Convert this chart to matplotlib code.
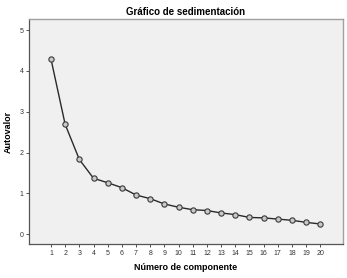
import matplotlib
matplotlib.use("Agg")
import matplotlib.pyplot as plt

componentes = list(range(1, 21))
autovalores = [4.29, 2.69, 1.83, 1.37, 1.26, 1.14, 0.96, 0.87, 0.74, 0.66,
               0.60, 0.58, 0.52, 0.48, 0.41, 0.40, 0.37, 0.34, 0.29, 0.25]
y_ticks = [0, 1, 2, 3, 4, 5]

plt.rcParams['font.family'] = ['Liberation Sans', 'DejaVu Sans']

fig = plt.figure(figsize=(3.47, 2.78), dpi=100)
ax = fig.add_axes([29 / 347, 1 - 244 / 278, (343 - 29) / 347, (244 - 19) / 278])
ax.set_facecolor('#f0f0f0')

ax.plot(componentes, autovalores, color='#2a2a2a', linewidth=1.0,
        marker='o', markersize=3.8, markerfacecolor='#c8c8c8',
        markeredgecolor='#3a3a3a', markeredgewidth=0.8)

ax.set_xlim(-0.55, 21.6)
ax.set_ylim(-0.24, 5.27)
ax.set_xticks(componentes)
ax.set_yticks(y_ticks)
ax.tick_params(axis='both', labelsize=5, length=2.5, width=0.6, pad=1.5,
               colors='#333333')

for s in ['top', 'right']:
    ax.spines[s].set_color('#a0a0a0')
    ax.spines[s].set_linewidth(1.0)
for s in ['left', 'bottom']:
    ax.spines[s].set_color('#555555')
    ax.spines[s].set_linewidth(0.9)

ax.set_title('Gráfico de sedimentación', fontsize=7, fontweight='bold', pad=3)
ax.set_xlabel('Número de componente', fontsize=6.5, fontweight='bold', labelpad=5)
ax.set_ylabel('Autovalor', fontsize=6.5, fontweight='bold', labelpad=5)

fig.savefig('out.png', dpi=100)
